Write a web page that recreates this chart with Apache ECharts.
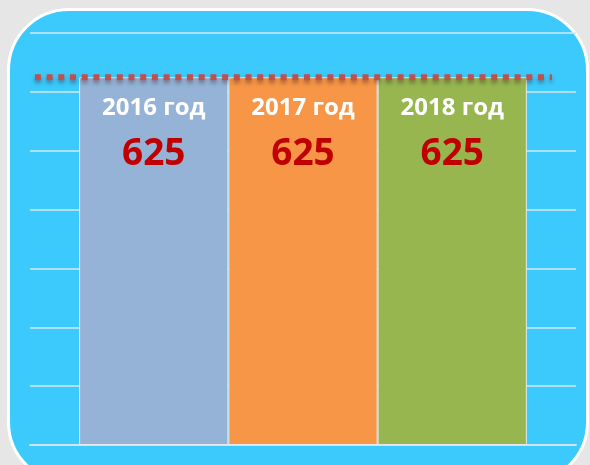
<!DOCTYPE html>
<html>
<head>
<meta charset="utf-8">
<script src="https://cdn.jsdelivr.net/npm/echarts@6/dist/echarts.min.js"></script>
<style>
  html, body { margin: 0; padding: 0; background: #e6e6e6; }
  #frame {
    position: absolute; left: 7px; top: 8px; width: 576px; height: 470px;
    background: #3ccafd; border: 3px solid #fff; border-radius: 62px;
  }
  #chart { position: absolute; left: 0; top: 0; width: 590px; height: 465px; }
</style>
</head>
<body>
<div id="frame"></div>
<div id="chart"></div>
<script>
// data
const years = ['2016 год', '2017 год', '2018 год']
const values = [625, 625, 625]
const barColors = ['#95b3d7', '#f79646', '#97b64f']
// dotted target line, x on a hidden 0..100 axis
const targetLine = [[0.9, 625], [95.6, 625]]

const chart = echarts.init(document.getElementById('chart'))

const barSeries = years.map((name, i) => ({
  name: name,
  type: 'bar',
  data: [values[i]],
  barGap: '0%',
  barCategoryGap: '18%',
  itemStyle: {
    color: barColors[i],
    borderColor: '#e8e8e8',
    borderWidth: 1
  },
  label: {
    show: true,
    position: 'insideTop',
    distance: 14,
    formatter: '{a|{a}}\n{b|{c}}',
    rich: {
      a: {
        color: '#fff',
        fontFamily: 'Open Sans',
        fontWeight: 'bold',
        fontSize: 24,
        lineHeight: 34
      },
      b: {
        color: '#c00000',
        fontFamily: 'Open Sans',
        fontWeight: 'bold',
        fontSize: 37,
        lineHeight: 58
      }
    }
  }
}))

chart.setOption({
  animation: false,
  backgroundColor: 'transparent',
  grid: {
    left: 30,
    right: 14,
    top: 33,
    bottom: 20
  },
  xAxis: [{
    type: 'category',
    data: [''],
    axisTick: { show: false },
    axisLabel: { show: false },
    axisLine: {
      show: true,
      lineStyle: { color: '#d0e4ee', width: 2 }
    }
  }, {
    type: 'value',
    min: 0,
    max: 100,
    show: false
  }],
  yAxis: {
    type: 'value',
    min: 0,
    max: 700,
    interval: 100,
    axisLabel: { show: false },
    axisLine: { show: false },
    axisTick: { show: false },
    splitLine: {
      lineStyle: { color: '#d6e6ee', width: 1.5 }
    }
  },
  series: barSeries.concat([{
    type: 'line',
    xAxisIndex: 1,
    data: targetLine,
    symbol: 'none',
    z: 5,
    lineStyle: {
      color: '#c0504d',
      width: 6,
      type: [6, 5.7],
      cap: 'butt',
      shadowColor: 'rgba(0,0,0,0.35)',
      shadowBlur: 4,
      shadowOffsetY: 3
    }
  }])
})
</script>
</body>
</html>
